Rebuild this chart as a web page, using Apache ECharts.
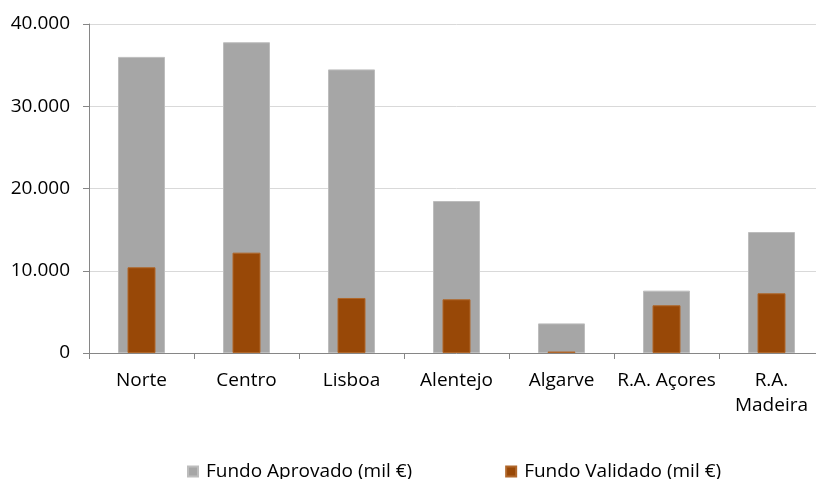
<!DOCTYPE html>
<html><head><meta charset="utf-8">
<script src="https://cdn.jsdelivr.net/npm/echarts@6/dist/echarts.min.js"></script>
<style>html,body{margin:0;padding:0;background:#fff;overflow:hidden}#c{width:830px;height:479px}</style>
</head><body><div id="c"></div>
<script>
var categories = ['Norte', 'Centro', 'Lisboa', 'Alentejo', 'Algarve', 'R.A. Açores', 'R.A.\nMadeira'];
var fundoAprovado = [36000, 37780, 34480, 18480, 3600, 7580, 14710];
var fundoValidado = [10420, 12200, 6690, 6530, 180, 5800, 7260];
var yTicks = [0, 10000, 20000, 30000, 40000];

var font = '"Open Sans", "Noto Sans", sans-serif';
var chart = echarts.init(document.getElementById('c'), null, {renderer: 'canvas'});
chart.setOption({
  animation: false,
  backgroundColor: '#ffffff',
  textStyle: {fontFamily: font},
  grid: {left: 89, top: 24, width: 735, bottom: 126, containLabel: false},
  legend: {
    data: ['Fundo Aprovado (mil €)', 'Fundo Validado (mil €)'],
    left: 182, top: 457,
    itemWidth: 10, itemHeight: 10, itemGap: 93,
    icon: 'rect',
    textStyle: {fontFamily: font, fontSize: 19, color: '#000', padding: [0, 0, 0, 3]}
  },
  xAxis: [{
    type: 'category',
    data: categories,
    boundaryGap: true,
    axisLine: {lineStyle: {color: '#868686', width: 1}},
    axisTick: {show: true, length: 6, lineStyle: {color: '#868686'}},
    axisLabel: {fontFamily: font, fontSize: 19, color: '#000', margin: 15, lineHeight: 25, interval: 0}
  }, {
    type: 'category',
    data: categories,
    show: false
  }],
  yAxis: {
    type: 'value',
    min: yTicks[0], max: yTicks[yTicks.length - 1], interval: 10000,
    axisLine: {show: true, lineStyle: {color: '#868686', width: 1}},
    axisTick: {show: true, length: 6, lineStyle: {color: '#868686'}},
    splitLine: {lineStyle: {color: '#d9d9d9', width: 1}},
    axisLabel: {
      fontFamily: font, fontSize: 19, color: '#000', margin: 19,
      formatter: function (v) { return v.toString().replace(/\B(?=(\d{3})+(?!\d))/g, '.'); }
    }
  },
  series: [
    {
      name: 'Fundo Aprovado (mil €)', type: 'bar', data: fundoAprovado,
      xAxisIndex: 0, barWidth: 47,
      itemStyle: {color: '#a6a6a6', borderColor: '#bdbdbd', borderWidth: 1}
    },
    {
      name: 'Fundo Validado (mil €)', type: 'bar', data: fundoValidado,
      xAxisIndex: 1, barWidth: 28,
      itemStyle: {color: '#984807', borderColor: '#b0672a', borderWidth: 1}
    }
  ]
});
</script></body></html>
